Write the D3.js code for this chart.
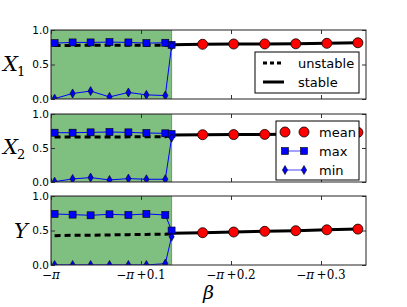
<!DOCTYPE html>
<html>
<head>
<meta charset="utf-8">
<script src="https://cdn.jsdelivr.net/npm/d3@7"></script>
<style>
  body { margin: 0; background: #fff; }
  svg { display: block; }
  .tick text { font-family: "DejaVu Sans", sans-serif; font-size: 10.5px; fill: #000; }
</style>
</head>
<body>
<svg id="chart" width="407" height="307"></svg>
<script>
// beta values are offsets from -pi
var betaUnstable = [0.004, 0.024, 0.044, 0.065, 0.086, 0.106, 0.127]
var betaEdge = 0.134
var betaStable = [0.134, 0.1685, 0.203, 0.2375, 0.272, 0.3065, 0.341]
var xTicks = [0, 0.1, 0.2, 0.3]
var xTickLabels = ["0", "0.1", "0.2", "0.3"]
var yTicks = [0, 0.5, 1]

// X1
var x1Unstable = [0.775, 0.775, 0.78, 0.78, 0.78, 0.78, 0.78, 0.785]
var x1Max = [0.81, 0.82, 0.82, 0.825, 0.82, 0.81, 0.815, 0.785]
var x1Min = [0.005, 0.08, 0.115, 0.03, 0.095, 0.06, 0.05, 0.77]
var x1Stable = [0.785, 0.793, 0.797, 0.798, 0.80, 0.807, 0.815]
// X2
var x2Unstable = [0.66, 0.66, 0.662, 0.662, 0.664, 0.665, 0.667, 0.69]
var x2Max = [0.725, 0.725, 0.73, 0.735, 0.73, 0.72, 0.716, 0.706]
var x2Min = [0.005, 0.045, 0.065, 0.03, 0.05, 0.04, 0.04, 0.65]
var x2Stable = [0.692, 0.695, 0.697, 0.70, 0.705, 0.712, 0.73]
// Y
var yUnstable = [0.425, 0.43, 0.432, 0.436, 0.44, 0.443, 0.447, 0.455]
var yMax = [0.74, 0.73, 0.72, 0.735, 0.725, 0.74, 0.725, 0.50]
var yMin = [0.0, 0.0, 0.0, 0.0, 0.0, 0.0, 0.02, 0.41]
var yStable = [0.46, 0.468, 0.478, 0.488, 0.497, 0.51, 0.52]

var panels = [
  {top: 30, bottom: 99, label: "X", sub: "1", un: x1Unstable, mx: x1Max, mn: x1Min, st: x1Stable},
  {top: 114, bottom: 182, label: "X", sub: "2", un: x2Unstable, mx: x2Max, mn: x2Min, st: x2Stable},
  {top: 196, bottom: 265, label: "Y", sub: "", un: yUnstable, mx: yMax, mn: yMin, st: yStable}
]

var svg = d3.select("#chart")
var x = d3.scaleLinear().domain([0, 0.35]).range([51, 366])
var greenFill = "#7fbf7f", blue = "#0000ff", red = "#ff0000"
var diamond = "M0,-4.5L2.6,0L0,4.5L-2.6,0Z"

var betaAll = betaUnstable.concat([betaEdge])

panels.forEach(function (p, i) {
  var y = d3.scaleLinear().domain([0, 1]).range([p.bottom, p.top])
  var g = svg.append("g")

  svg.append("clipPath").attr("id", "clip" + i)
    .append("rect").attr("x", x(0)).attr("y", p.top)
    .attr("width", x(0.35) - x(0)).attr("height", p.bottom - p.top)

  var plot = g.append("g").attr("clip-path", "url(#clip" + i + ")")

  // unstable region
  plot.append("rect")
    .attr("x", x(0)).attr("y", p.top)
    .attr("width", x(betaEdge) - x(0)).attr("height", p.bottom - p.top)
    .attr("fill", greenFill).attr("stroke", "#888").attr("stroke-width", 1)

  var line = d3.line().x(function (d) { return x(d[0]) }).y(function (d) { return y(d[1]) })

  // mean lines
  plot.append("path")
    .datum(betaAll.map(function (b, k) { return [b, p.un[k]] }))
    .attr("d", line).attr("fill", "none").attr("stroke", "#000")
    .attr("stroke-width", 3).attr("stroke-dasharray", "6,4")
  plot.append("path")
    .datum(betaStable.map(function (b, k) { return [b, p.st[k]] }))
    .attr("d", line).attr("fill", "none").attr("stroke", "#000").attr("stroke-width", 3)

  // max and min
  var maxPts = betaAll.map(function (b, k) { return [b, p.mx[k]] })
  var minPts = betaAll.map(function (b, k) { return [b, p.mn[k]] })
  plot.append("path").datum(maxPts).attr("d", line)
    .attr("fill", "none").attr("stroke", blue).attr("stroke-width", 1)
  plot.append("path").datum(minPts).attr("d", line)
    .attr("fill", "none").attr("stroke", blue).attr("stroke-width", 1)

  plot.selectAll(".sq").data(maxPts).enter().append("rect")
    .attr("x", function (d) { return x(d[0]) - 3.5 })
    .attr("y", function (d) { return y(d[1]) - 3.5 })
    .attr("width", 7).attr("height", 7)
    .attr("fill", blue).attr("stroke", "#000").attr("stroke-width", 0.6)
  plot.selectAll(".dm").data(minPts).enter().append("path")
    .attr("d", diamond)
    .attr("transform", function (d) { return "translate(" + x(d[0]) + "," + y(d[1]) + ")" })
    .attr("fill", blue).attr("stroke", "#000").attr("stroke-width", 0.6)

  // mean markers in stable part
  plot.selectAll(".mc").data(betaStable.slice(1).map(function (b, k) { return [b, p.st[k + 1]] }))
    .enter().append("circle")
    .attr("cx", function (d) { return x(d[0]) })
    .attr("cy", function (d) { return y(d[1]) })
    .attr("r", 5).attr("fill", red).attr("stroke", "#000").attr("stroke-width", 0.8)

  // axes with inward ticks
  g.append("g").attr("transform", "translate(" + x(0) + ",0)")
    .call(d3.axisLeft(y).tickValues(yTicks).tickSize(-4).tickPadding(2).tickFormat(d3.format(".1f")))
  g.append("g").attr("transform", "translate(" + x(0.35) + ",0)")
    .call(d3.axisRight(y).tickValues(yTicks).tickSize(-4).tickFormat(""))
  g.append("g").attr("transform", "translate(0," + p.bottom + ")")
    .call(d3.axisBottom(x).tickValues(xTicks).tickSize(-4).tickFormat(""))
  g.append("g").attr("transform", "translate(0," + p.top + ")")
    .call(d3.axisTop(x).tickValues(xTicks).tickSize(-4).tickFormat(""))
  g.selectAll(".domain").remove()
  g.selectAll(".tick line").attr("stroke", "#333")

  g.append("rect")
    .attr("x", x(0)).attr("y", p.top)
    .attr("width", x(0.35) - x(0)).attr("height", p.bottom - p.top)
    .attr("fill", "none").attr("stroke", "#222").attr("stroke-width", 1)

  // y label
  var lab = g.append("text")
    .attr("x", p.sub ? 3 : 14).attr("y", p.sub ? (p.top + p.bottom) / 2 + 6 : 238)
    .attr("font-family", "DejaVu Serif, serif").attr("font-style", "italic")
    .attr("font-size", 21).text(p.label)
  if (p.sub) {
    lab.append("tspan").attr("dy", 5).attr("dx", -1).attr("font-style", "normal")
      .attr("font-size", 13).text(p.sub)
  }
})

// bottom x tick labels
var xl = svg.append("g")
xTicks.forEach(function (t, k) {
  var tx = xl.append("text").attr("x", x(t)).attr("y", 278.5)
    .attr("text-anchor", "middle").attr("font-family", "DejaVu Serif, serif").attr("font-size", 12)
  tx.append("tspan").text("\u2212")
  tx.append("tspan").attr("font-style", "italic").text("\u03c0")
  if (k > 0) tx.append("tspan").text("\u2009+" + xTickLabels[k])
})

svg.append("text").attr("x", 203).attr("y", 299)
  .attr("font-family", "DejaVu Serif, serif").attr("font-style", "italic")
  .attr("font-size", 19).text("\u03b2")

// legend 1
var lg1 = svg.append("g")
lg1.append("rect").attr("x", 255).attr("y", 52).attr("width", 104).attr("height", 41)
  .attr("fill", "#fff").attr("stroke", "#000").attr("stroke-width", 1)
lg1.append("line").attr("x1", 263).attr("x2", 284).attr("y1", 63).attr("y2", 63)
  .attr("stroke", "#000").attr("stroke-width", 3).attr("stroke-dasharray", "4,3")
lg1.append("line").attr("x1", 263).attr("x2", 284).attr("y1", 82).attr("y2", 82)
  .attr("stroke", "#000").attr("stroke-width", 3)
lg1.selectAll(".t").data(["unstable", "stable"]).enter().append("text")
  .attr("x", 298).attr("y", function (d, k) { return 67.5 + k * 19.5 })
  .attr("font-family", "DejaVu Sans, sans-serif").attr("font-size", 13).text(function (d) { return d })

// legend 2
var lg2 = svg.append("g")
lg2.append("rect").attr("x", 276).attr("y", 121).attr("width", 83).attr("height", 59)
  .attr("fill", "#fff").attr("stroke", "#000").attr("stroke-width", 1)
var ly = [132, 151, 170]
;[285, 304].forEach(function (lx) {
  lg2.append("circle").attr("cx", lx).attr("cy", ly[0]).attr("r", 5)
    .attr("fill", red).attr("stroke", "#000").attr("stroke-width", 0.8)
})
lg2.append("line").attr("x1", 285).attr("x2", 304).attr("y1", ly[1]).attr("y2", ly[1])
  .attr("stroke", blue).attr("stroke-opacity", 0.6).attr("stroke-width", 1.2)
lg2.append("line").attr("x1", 285).attr("x2", 304).attr("y1", ly[2]).attr("y2", ly[2])
  .attr("stroke", blue).attr("stroke-opacity", 0.6).attr("stroke-width", 1.2)
;[285, 304].forEach(function (lx) {
  lg2.append("rect").attr("x", lx - 3.5).attr("y", ly[1] - 3.5).attr("width", 7).attr("height", 7)
    .attr("fill", blue).attr("stroke", "#000").attr("stroke-width", 0.6)
  lg2.append("path").attr("d", diamond).attr("transform", "translate(" + lx + "," + ly[2] + ")")
    .attr("fill", blue).attr("stroke", "#000").attr("stroke-width", 0.6)
})
lg2.selectAll(".t").data(["mean", "max", "min"]).enter().append("text")
  .attr("x", 319).attr("y", function (d, k) { return ly[k] + 4.5 })
  .attr("font-family", "DejaVu Sans, sans-serif").attr("font-size", 13).text(function (d) { return d })
</script>
</body>
</html>
